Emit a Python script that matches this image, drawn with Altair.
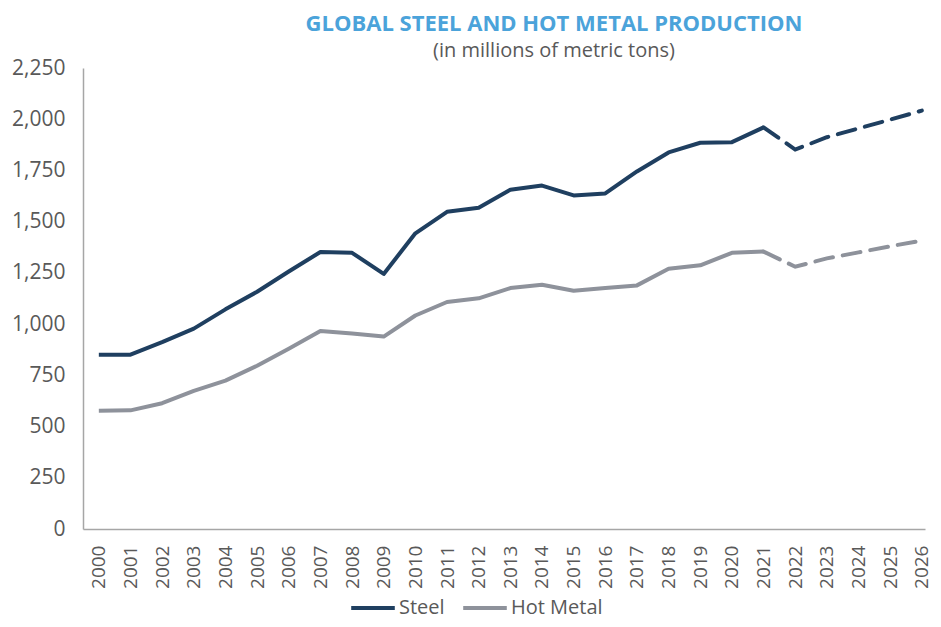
import altair as alt
import pandas as pd

years = list(range(2000, 2027))
steel = [851, 851, 912, 978, 1072, 1158, 1257, 1352, 1348, 1245, 1443, 1548, 1568, 1656,
         1676, 1628, 1638, 1745, 1838, 1885, 1888, 1960, 1852, 1912, 1955, 1998, 2042]
hot_metal = [577, 579, 614, 674, 724, 797, 880, 966, 954, 939, 1042, 1108, 1126, 1176,
             1192, 1163, 1176, 1189, 1270, 1287, 1348, 1354, 1280, 1321, 1350, 1380, 1408]
series = ["Steel", "Hot Metal"]
colors = ["#1f3f60", "#8e929b"]
last_actual = 2021

rows = []
for name, vals in zip(series, [steel, hot_metal]):
    for y, v in zip(years, vals):
        rows.append({"year": y, "value": v, "series": name})
df = pd.DataFrame(rows)

FONT = "Open Sans"
GRAY = "#595959"

x = alt.X("year:Q",
          scale=alt.Scale(domain=[1999.5, 2026.1], nice=False, zero=False),
          axis=alt.Axis(values=years, format="d", labelAngle=-90, grid=False,
                        tickSize=0, labelPadding=16, title=None,
                        labelFontSize=19, labelColor=GRAY, labelFont=FONT,
                        domainColor="#a6a6a6", domainWidth=1.5))
y = alt.Y("value:Q",
          scale=alt.Scale(domain=[0, 2250], nice=False),
          axis=alt.Axis(values=list(range(0, 2251, 250)), format=",.0f", grid=False,
                        tickSize=0, labelPadding=18, title=None,
                        labelFontSize=21, labelColor=GRAY, labelFont=FONT,
                        domainColor="#a6a6a6", domainWidth=1.5))
color_scale = alt.Scale(domain=series, range=colors)

solid = alt.Chart(df).transform_filter(alt.datum.year <= last_actual).mark_line(
    strokeWidth=4, strokeJoin="round"
).encode(
    x=x, y=y,
    color=alt.Color("series:N", scale=color_scale, sort=series,
                    legend=alt.Legend(title=None, orient="none", legendX=266, legendY=516,
                                      direction="horizontal", symbolType="stroke",
                                      symbolSize=1900, symbolStrokeWidth=4,
                                      labelFontSize=20, labelColor=GRAY, labelFont=FONT,
                                      labelOffset=2, columnPadding=10)),
)
dashed = alt.Chart(df).transform_filter(alt.datum.year >= last_actual).mark_line(
    strokeWidth=4, strokeDash=[18, 10], strokeCap="round"
).encode(
    x=x, y=y,
    color=alt.Color("series:N", scale=color_scale, sort=series, legend=None),
)

chart = alt.layer(solid, dashed).properties(
    width=842, height=461,
    autosize=alt.AutoSizeParams(type="none"),
    title=alt.TitleParams(
        text="GLOBAL STEEL AND HOT METAL PRODUCTION",
        subtitle="(in millions of metric tons)",
        anchor="middle", dx=50, fontSize=22, font=FONT, fontWeight="bold",
        color="#4ba3da", subtitleFont=FONT, subtitleFontSize=20,
        subtitleColor=GRAY, subtitlePadding=5, offset=-5),
    padding={"left": 75, "top": 60, "right": 8, "bottom": 90},
).configure_view(stroke=None)

chart.save("out.html", embed_options={"renderer": "svg", "actions": False})
